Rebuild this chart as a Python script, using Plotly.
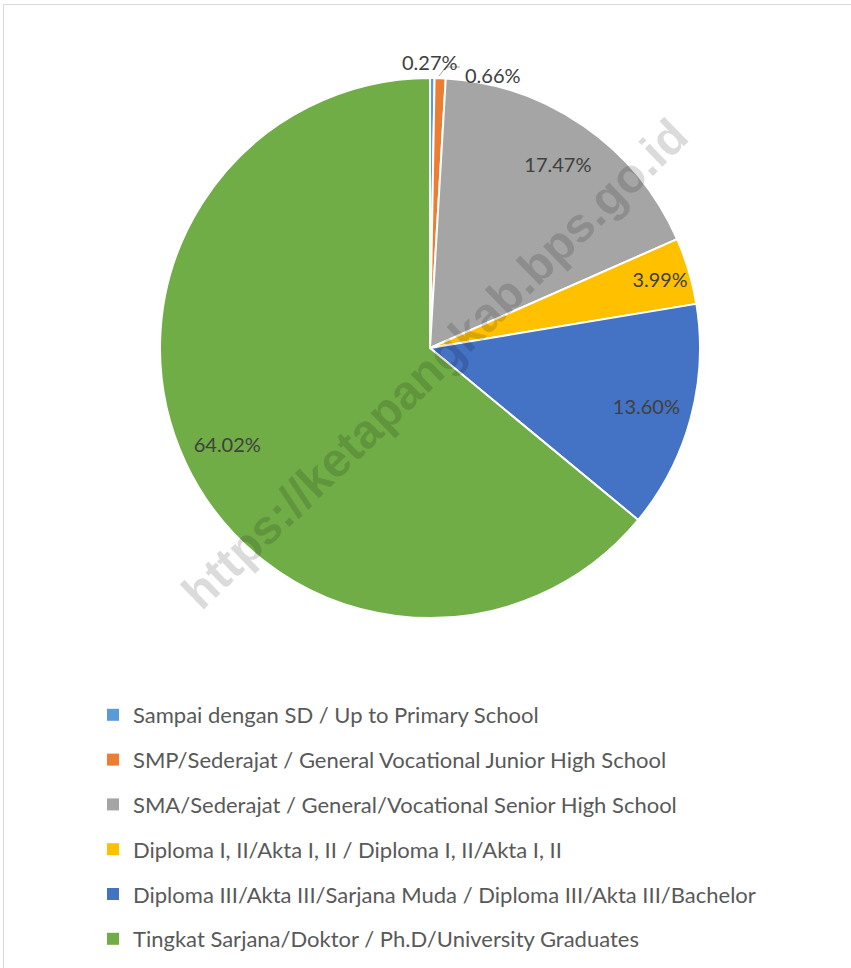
import plotly.graph_objects as go

categories = [
    "Sampai dengan SD / Up to Primary School",
    "SMP/Sederajat / General Vocational Junior High School",
    "SMA/Sederajat / General/Vocational Senior High School",
    "Diploma I, II/Akta I, II / Diploma I, II/Akta I, II",
    "Diploma III/Akta III/Sarjana Muda / Diploma III/Akta III/Bachelor",
    "Tingkat Sarjana/Doktor / Ph.D/University Graduates",
]
values = [0.27, 0.66, 17.47, 3.99, 13.60, 64.02]
colors = ["#5B9BD5", "#ED7D31", "#A5A5A5", "#FFC000", "#4472C4", "#70AD47"]
label_positions = ["none", "none", "inside", "inside", "inside", "inside"]

W, H = 851, 968
cx, cy, r = 430, 348, 270
domain = dict(x=[(cx - r) / W, (cx + r) / W], y=[1 - (cy + r) / H, 1 - (cy - r) / H])

fig = go.Figure()
# main pie (slices)
fig.add_trace(go.Pie(
    labels=categories,
    values=values,
    sort=False,
    direction="clockwise",
    rotation=0,
    marker=dict(colors=colors, line=dict(color="white", width=2)),
    textinfo="none",
    showlegend=False,
    domain=domain,
    hoverinfo="label+percent",
))
# transparent ring carrying the data labels, placed toward the rim like the original
fig.add_trace(go.Pie(
    labels=categories,
    values=values,
    sort=False,
    direction="clockwise",
    rotation=0,
    hole=0.66,
    marker=dict(colors=["rgba(0,0,0,0)"] * len(values), line=dict(width=0)),
    texttemplate="%{value:.2f}%",
    textposition=label_positions,
    insidetextorientation="horizontal",
    textfont=dict(family="Lato", size=20, color="#404040"),
    showlegend=False,
    domain=domain,
    hoverinfo="skip",
))

for cat, col in zip(categories, colors):
    fig.add_trace(go.Scatter(
        x=[None], y=[None], mode="markers", name=cat,
        marker=dict(symbol="square", size=8, color=col),
        legendgroup=cat, showlegend=True,
    ))

# labels for the two thin slices
fig.add_annotation(
    text=f"{values[0]:.2f}%", x=430 / W, y=1 - 48 / H, xref="paper", yref="paper",
    showarrow=False, font=dict(family="Lato", size=20, color="#404040"),
)
fig.add_annotation(
    text=f"{values[1]:.2f}%", x=493 / W, y=1 - 61 / H, xref="paper", yref="paper",
    showarrow=False, font=dict(family="Lato", size=20, color="#404040"),
)
fig.add_shape(type="path", xref="paper", yref="paper",
              path=f"M {439/W} {1-76/H} L {446/W} {1-67/H} L {460/W} {1-67/H}",
              line=dict(color="#A6A6A6", width=1))

fig.add_annotation(
    text="<b>https://ketapangkab.bps.go.id</b>",
    x=435 / W, y=1 - 364 / H, xref="paper", yref="paper",
    showarrow=False, textangle=-44,
    font=dict(family="Liberation Sans", size=48, color="rgba(0,0,0,0.14)"),
)

fig.add_shape(type="rect", xref="paper", yref="paper",
              x0=3.5 / W, x1=1.01, y0=-0.01, y1=1 - 4.5 / H,
              line=dict(color="#D9D9D9", width=1))

fig.update_layout(
    width=W, height=H,
    margin=dict(l=0, r=0, t=0, b=0),
    paper_bgcolor="white", plot_bgcolor="white",
    xaxis=dict(visible=False), yaxis=dict(visible=False),
    legend=dict(
        x=93 / W, y=1 - 694 / H, xanchor="left", yanchor="top",
        font=dict(family="Lato", size=22, color="#595959"),
        traceorder="grouped", tracegroupgap=13.2,
        itemsizing="constant", itemwidth=30, bgcolor="rgba(0,0,0,0)",
    ),
)

fig.write_html("out.html", config={"displayModeBar": False},
               post_script="document.body.style.margin='0';document.body.style.overflow='hidden';")
